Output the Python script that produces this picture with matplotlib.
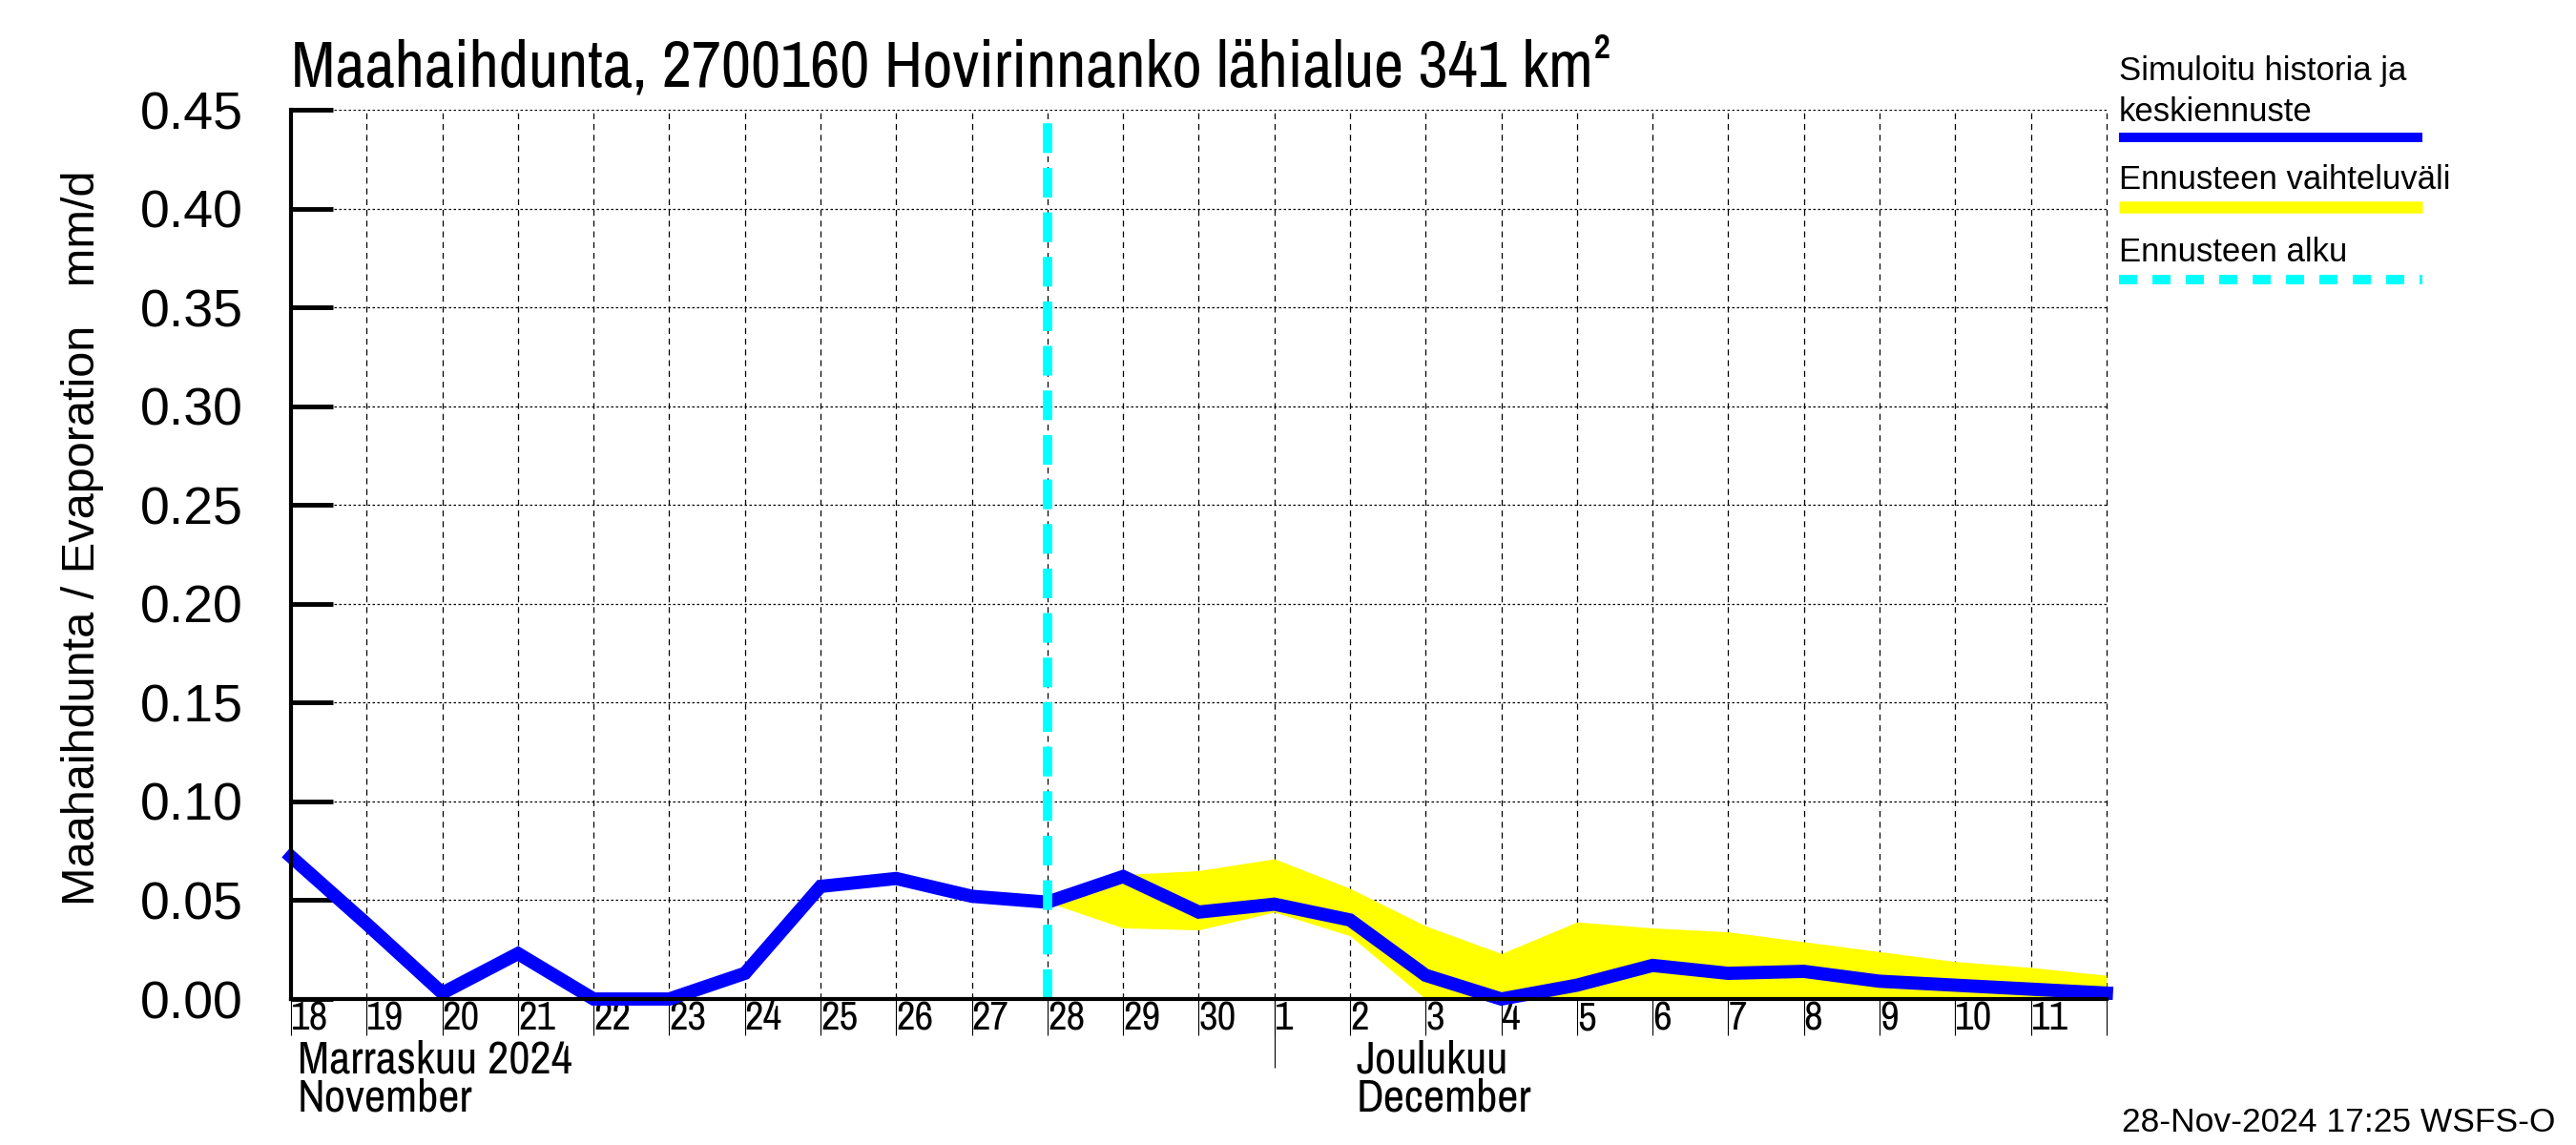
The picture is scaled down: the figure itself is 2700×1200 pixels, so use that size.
import matplotlib
matplotlib.use('Agg')
import matplotlib.pyplot as plt
from matplotlib.lines import Line2D
from matplotlib import font_manager
import numpy as np

# fonts: narrow helvetica-like for title and dates, normal for the rest
names = {f.name for f in font_manager.fontManager.ttflist}
NARROW = 'Liberation Sans'
for cand in ['Liberation Sans Narrow', 'Nimbus Sans Narrow', 'Archivo Narrow', 'PT Sans Narrow']:
    if cand in names:
        NARROW = cand
        break
plt.rcParams['font.family'] = ['Liberation Sans', 'DejaVu Sans']

# daily values, 18 Nov 2024 .. 12 Dec 2024
dates = np.arange(np.datetime64('2024-11-18'), np.datetime64('2024-12-13'))
evap = [0.072, 0.038, 0.003, 0.023, 0.0, 0.0, 0.013, 0.057, 0.061, 0.052,
        0.049, 0.062, 0.044, 0.048, 0.040, 0.012, 0.0, 0.007, 0.017, 0.013,
        0.014, 0.009, 0.007, 0.005, 0.003]

# forecast range from 28 Nov
fc_dates = np.arange(np.datetime64('2024-11-28'), np.datetime64('2024-12-13'))
fc_high = [0.049, 0.063, 0.065, 0.071, 0.056, 0.037, 0.023, 0.039, 0.036, 0.034,
           0.029, 0.024, 0.019, 0.016, 0.012]
fc_low = [0.049, 0.036, 0.035, 0.044, 0.032, 0.0, 0.0, 0.0, 0.0, 0.0,
          0.0, 0.0, 0.0, 0.0, 0.001]
fc_start = np.datetime64('2024-11-28')

day_labels = [str(d.astype(object).day) for d in dates[:-1]] + ['']
yticks = [0.0, 0.05, 0.10, 0.15, 0.20, 0.25, 0.30, 0.35, 0.40, 0.45]

fig = plt.figure(figsize=(27, 12), dpi=100)
ax = fig.add_axes([0.113, 0.1275, 0.7047, 0.7765])

ax.fill_between(fc_dates, fc_low, fc_high, color='#ffff00', linewidth=0, zorder=2)
ax.plot(dates, evap, color='#0000ff', linewidth=10, solid_joinstyle='miter', zorder=3, clip_on=False)
ax.axvline(fc_start, color='#00ffff', linewidth=7, linestyle=(0, (3.2, 1.6)), zorder=4)

ax.set_xlim(dates[0], dates[-1])
ax.set_ylim(0, 0.45)

ax.set_yticks(yticks)
ax.set_yticklabels(['%.2f' % v for v in yticks])
ax.tick_params(axis='y', direction='in', length=32, width=3.5, pad=36, labelsize=40)

ax.set_xticks(dates)
ax.set_xticklabels(day_labels, ha='left', fontfamily=NARROW)
ax.tick_params(axis='x', direction='out', length=27, width=0.8, pad=-26, labelsize=31)
# longer tick at the month change
ax.xaxis.remove_overlapping_locs = False
ax.set_xticks([np.datetime64('2024-12-01')], minor=True)
ax.tick_params(axis='x', which='minor', direction='out', length=52, width=0.8)

ax.grid(axis='x', color='black', linewidth=0.9, linestyle=(0, (5, 4)))
ax.grid(axis='y', color='black', linewidth=0.9, linestyle=(0, (2, 2)))
ax.set_axisbelow(True)
for gl in ax.get_xgridlines():
    gl.set_clip_on(False)

for s in ['top', 'right']:
    ax.spines[s].set_visible(False)
for s in ['left', 'bottom']:
    ax.spines[s].set_linewidth(3)
    ax.spines[s].set_zorder(5)

tr = ax.get_xaxis_transform()
off = np.timedelta64(2, 'h')
ax.text(dates[0] + off, -0.069, 'Marraskuu 2024', transform=tr,
        fontfamily=NARROW, fontsize=35, va='center', ha='left')
ax.text(dates[0] + off, -0.112, 'November', transform=tr,
        fontfamily=NARROW, fontsize=35, va='center', ha='left')
ax.text(np.datetime64('2024-12-02') + off, -0.069, 'Joulukuu', transform=tr,
        fontfamily=NARROW, fontsize=35, va='center', ha='left')
ax.text(np.datetime64('2024-12-02') + off, -0.112, 'December', transform=tr,
        fontfamily=NARROW, fontsize=35, va='center', ha='left')

fig.text(0.113, 0.941, 'Maahaihdunta, 2700160 Hovirinnanko lähialue 341 km²',
         fontfamily=NARROW, fontsize=49, va='center', ha='left')
fig.text(0.032, 0.53, 'Maahaihdunta / Evaporation   mm/d', rotation=90,
         fontsize=35, va='center', ha='center')
fig.text(0.992, 0.02, '28-Nov-2024 17:25 WSFS-O', fontsize=25.5, va='center', ha='right')

# legend on the right
lx0, lx1 = 0.8225, 0.9405
fig.text(lx0, 0.938, 'Simuloitu historia ja', fontsize=25, va='center')
fig.text(lx0, 0.902, 'keskiennuste', fontsize=25, va='center')
fig.add_artist(Line2D([lx0, lx1], [0.88, 0.88], color='#0000ff', linewidth=7.2, solid_capstyle='butt'))
fig.text(lx0, 0.843, 'Ennusteen vaihteluväli', fontsize=25, va='center')
fig.add_artist(Line2D([lx0, lx1], [0.819, 0.819], color='#ffff00', linewidth=9, solid_capstyle='butt'))
fig.text(lx0, 0.78, 'Ennusteen alku', fontsize=25, va='center')
fig.add_artist(Line2D([lx0, lx1], [0.756, 0.756], color='#00ffff', linewidth=7.2,
                      linestyle=(0, (1.9, 1.6)), dash_capstyle='butt'))

fig.savefig('out.png', dpi=100)
